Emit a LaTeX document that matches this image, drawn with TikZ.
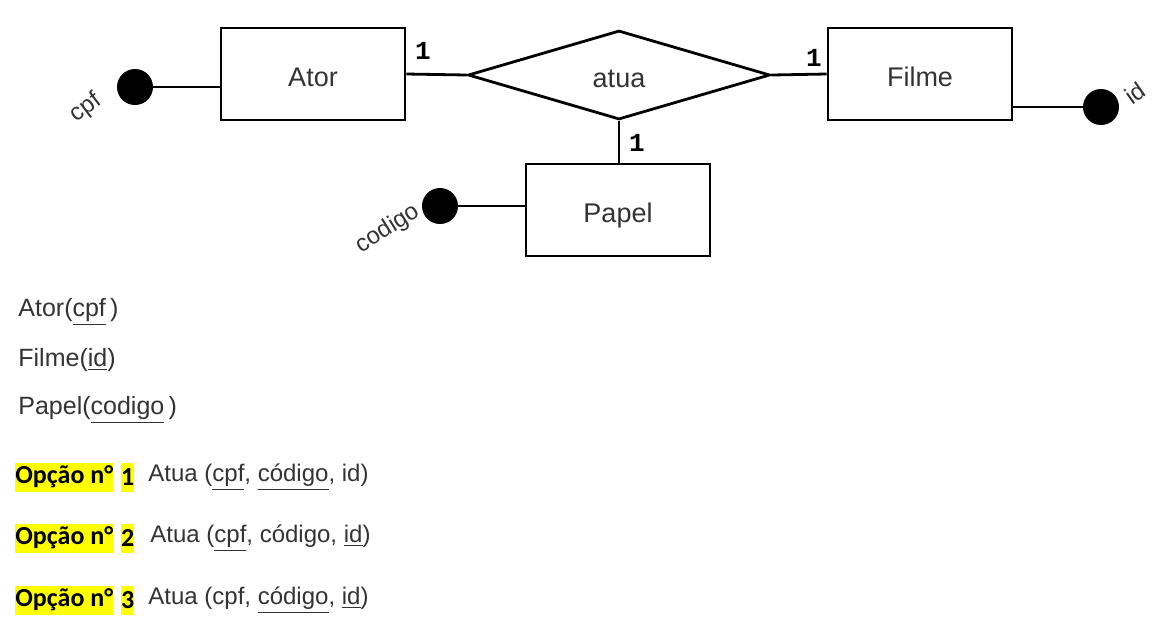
\documentclass[tikz,border=0pt]{standalone}
\usepackage{fontspec}
\setmainfont{Liberation Sans}
\newfontfamily\opcaofont{Carlito}
\newfontfamily\cardfont{Liberation Mono}
\usetikzlibrary{shapes.geometric,positioning}
\definecolor{texto}{HTML}{333333}
\definecolor{marca}{HTML}{FFFF00}

\tikzset{
	entidade/.style={draw,line width=1.4pt,minimum width=92pt,minimum height=46pt,inner sep=0pt,text=texto,text height=12.7pt,text depth=0pt,font=\fontsize{13.5}{16}\selectfont},
	relacao/.style={diamond,draw,line width=1.4pt,minimum width=151pt,minimum height=44.5pt,aspect=3.4,inner sep=0pt,text=texto,text height=12.7pt,text depth=0pt,font=\fontsize{13.5}{16}\selectfont},
	atributo/.style={circle,fill=black,minimum size=18pt,inner sep=0pt},
	nomeatrib/.style={text=texto,font=\fontsize{12}{14}\selectfont,inner sep=0pt},
	card/.style={font=\cardfont\bfseries\fontsize{13}{15}\selectfont,inner sep=0pt},
	liga/.style={line width=1.4pt},
	tabela/.style={anchor=west,text=texto,font=\fontsize{12.5}{15}\selectfont,inner sep=0pt},
	marcador/.style={anchor=west,fill=marca,font=\opcaofont\bfseries\fontsize{13}{15}\selectfont,inner xsep=0pt,inner ysep=1pt,minimum height=14.5pt},
	opcao/.style={anchor=west,text=texto,font=\fontsize{12}{14}\selectfont,inner sep=0pt}
}

\begin{document}
\begin{tikzpicture}[x=0.5pt,y=-0.5pt]
	\useasboundingbox (0,0) rectangle (1160,629);
	% diagrama ER
	\node[entidade] (ator) at (313,74) {Ator};
	\node[relacao] (atua) at (619,75) {atua};
	\node[entidade] (filme) at (920,74) {Filme};
	\node[entidade] (papel) at (618,210) {Papel};
	\node[atributo] (cpf) at (135,87) {};
	\node[atributo] (id) at (1101,107) {};
	\node[atributo] (codigo) at (440,206) {};
	\draw[liga] (ator.east) -- (atua.west);
	\draw[liga] (atua.east) -- (filme.west);
	\draw[liga] (atua.south) -- (papel.north -| atua.south);
	\draw[liga] (cpf) -- (cpf -| ator.west);
	\draw[liga] (filme.east |- id) -- (id);
	\draw[liga] (codigo) -- (codigo -| papel.west);
	\node[nomeatrib,rotate=37] (lcpf) at (86,108) {cpf};
	\node[nomeatrib,rotate=35] (lid) at (1135,93) {id};
	\node[nomeatrib,rotate=32] (lcodigo) at (388,229) {codigo};
	\node[card] (c1) at (423,51) {1};
	\node[card] (c2) at (814,58) {1};
	\node[card] (c3) at (637,143) {1};
	% tabelas
	\node[tabela] (tator) at (18,312) {Ator(\underline{cpf}\,)};
	\node[tabela] (tfilme) at (18,360) {Filme(\underline{id})};
	\node[tabela] (tpapel) at (18,410) {Papel(\underline{codigo}\,)};
	% opcoes
	\node[marcador] (m1) at (15,477) {Opção n°};
	\node[marcador,right=3.5pt of m1] (n1) {1};
	\node[opcao] (o1) at (148,477) {Atua (\underline{cpf}, \underline{código}, id)};
	\node[marcador] (m2) at (15,538) {Opção n°};
	\node[marcador,right=3.5pt of m2] (n2) {2};
	\node[opcao] (o2) at (150,538) {Atua (\underline{cpf}, código, \underline{id})};
	\node[marcador] (m3) at (15,600) {Opção n°};
	\node[marcador,right=3.5pt of m3] (n3) {3};
	\node[opcao] (o3) at (148,600) {Atua (cpf, \underline{código}, \underline{id})};
\end{tikzpicture}
\end{document}
